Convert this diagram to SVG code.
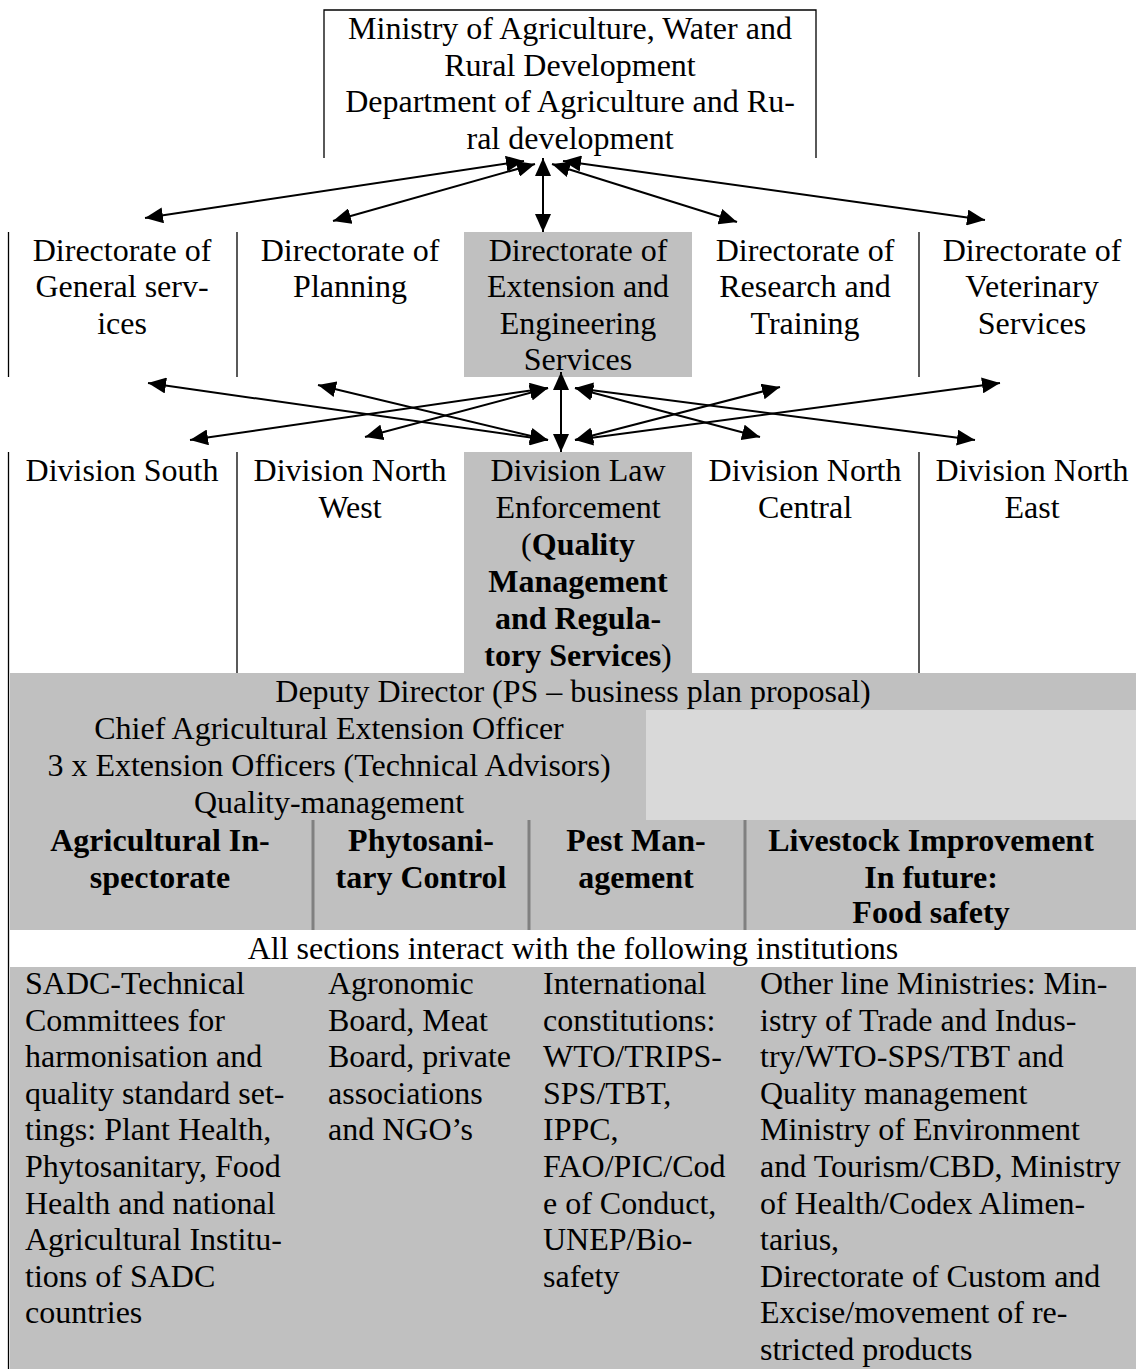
<svg xmlns="http://www.w3.org/2000/svg" width="1136" height="1369" viewBox="0 0 1136 1369">
<defs>
<marker id="ah" viewBox="0 0 18 16" refX="18" refY="8" markerWidth="18" markerHeight="16" markerUnits="userSpaceOnUse" orient="auto-start-reverse"><path d="M0,0 L18,8 L0,16 z" fill="#000"/></marker>
</defs>
<style>
text{font-family:"Liberation Serif","Times New Roman",serif;font-size:32px;fill:#000}
.c{text-anchor:middle}
.b{font-weight:bold}
.ln{stroke:#000;stroke-width:1.3;fill:none}
.g{fill:#c0c0c0}
.lg{fill:#d9d9d9}
.sep{stroke:#808080;stroke-width:3}
.arr{stroke:#000;stroke-width:2;fill:none;marker-start:url(#ah);marker-end:url(#ah)}
</style>
<rect width="1136" height="1369" fill="#fff"/>

<g id="ministry">
<path class="ln" d="M324,158 V10 H816 V158"/>
<text class="c" x="570" y="39">Ministry of Agriculture, Water and</text>
<text class="c" x="570" y="76">Rural Development</text>
<text class="c" x="570" y="112">Department of Agriculture and Ru-</text>
<text class="c" x="570" y="149">ral development</text>
</g>

<g id="dir-general">
<line class="ln" x1="8.5" y1="232" x2="8.5" y2="377"/>
<text class="c" x="122" y="261">Directorate of</text>
<text class="c" x="122" y="297">General serv-</text>
<text class="c" x="122" y="334">ices</text>
</g>
<g id="dir-planning">
<line class="ln" x1="237" y1="232" x2="237" y2="377"/>
<text class="c" x="350" y="261">Directorate of</text>
<text class="c" x="350" y="297">Planning</text>
</g>
<g id="dir-extension">
<rect class="g" x="464" y="232" width="228" height="145"/>
<text class="c" x="578" y="261">Directorate of</text>
<text class="c" x="578" y="297">Extension and</text>
<text class="c" x="578" y="334">Engineering</text>
<text class="c" x="578" y="370">Services</text>
</g>
<g id="dir-research">
<text class="c" x="805" y="261">Directorate of</text>
<text class="c" x="805" y="297">Research and</text>
<text class="c" x="805" y="334">Training</text>
</g>
<g id="dir-veterinary">
<line class="ln" x1="919" y1="232" x2="919" y2="377"/>
<text class="c" x="1032" y="261">Directorate of</text>
<text class="c" x="1032" y="297">Veterinary</text>
<text class="c" x="1032" y="334">Services</text>
</g>

<g id="div-south">
<text class="c" x="122" y="481">Division South</text>
</g>
<g id="div-northwest">
<line class="ln" x1="237" y1="452" x2="237" y2="673"/>
<text class="c" x="350" y="481">Division North</text>
<text class="c" x="350" y="518">West</text>
</g>
<g id="div-law">
<rect class="g" x="464" y="452" width="228" height="221"/>
<text class="c" x="578" y="481">Division Law</text>
<text class="c" x="578" y="518">Enforcement</text>
<text class="c" x="578" y="555">(<tspan class="b">Quality</tspan></text>
<text class="c b" x="578" y="592">Management</text>
<text class="c b" x="578" y="629">and Regula-</text>
<text class="c" x="578" y="666"><tspan class="b">tory Services</tspan>)</text>
</g>
<g id="div-northcentral">
<text class="c" x="805" y="481">Division North</text>
<text class="c" x="805" y="518">Central</text>
</g>
<g id="div-northeast">
<line class="ln" x1="919" y1="452" x2="919" y2="673"/>
<text class="c" x="1032" y="481">Division North</text>
<text class="c" x="1032" y="518">East</text>
</g>

<g id="qm-unit">
<rect class="g" x="10" y="673" width="1126" height="257"/>
<rect class="lg" x="646" y="710" width="490" height="110"/>
<text class="c" x="573" y="702">Deputy Director (PS – business plan proposal)</text>
<text class="c" x="329" y="739">Chief Agricultural Extension Officer</text>
<text class="c" x="329" y="776">3 x Extension Officers (Technical Advisors)</text>
<text class="c" x="329" y="813">Quality-management</text>
<line class="sep" x1="313" y1="820" x2="313" y2="930"/>
<line class="sep" x1="529" y1="820" x2="529" y2="930"/>
<line class="sep" x1="745" y1="820" x2="745" y2="930"/>
</g>
<g id="sec-inspectorate">
<text class="c b" x="160" y="851">Agricultural In-</text>
<text class="c b" x="160" y="888">spectorate</text>
</g>
<g id="sec-phyto">
<text class="c b" x="421" y="851">Phytosani-</text>
<text class="c b" x="421" y="888">tary Control</text>
</g>
<g id="sec-pest">
<text class="c b" x="636" y="851">Pest Man-</text>
<text class="c b" x="636" y="888">agement</text>
</g>
<g id="sec-livestock">
<text class="c b" x="931" y="851">Livestock Improvement</text>
<text class="c b" x="931" y="888">In future:</text>
<text class="c b" x="931" y="923">Food safety</text>
</g>

<g id="interact-note">
<text class="c" x="573" y="959">All sections interact with the following institutions</text>
</g>

<g id="institutions">
<rect class="g" x="10" y="967" width="1126" height="402"/>
<line class="ln" x1="8.5" y1="452" x2="8.5" y2="1369"/>
</g>
<g id="inst-sadc">
<text x="25" y="994">SADC-Technical</text>
<text x="25" y="1031">Committees for</text>
<text x="25" y="1067">harmonisation and</text>
<text x="25" y="1104">quality standard set-</text>
<text x="25" y="1140">tings: Plant Health,</text>
<text x="25" y="1177">Phytosanitary, Food</text>
<text x="25" y="1214">Health and national</text>
<text x="25" y="1250">Agricultural Institu-</text>
<text x="25" y="1287">tions of SADC</text>
<text x="25" y="1323">countries</text>
</g>
<g id="inst-boards">
<text x="328" y="994">Agronomic</text>
<text x="328" y="1031">Board, Meat</text>
<text x="328" y="1067">Board, private</text>
<text x="328" y="1104">associations</text>
<text x="328" y="1140">and NGO’s</text>
</g>
<g id="inst-international">
<text x="543" y="994">International</text>
<text x="543" y="1031">constitutions:</text>
<text x="543" y="1067">WTO/TRIPS-</text>
<text x="543" y="1104">SPS/TBT,</text>
<text x="543" y="1140">IPPC,</text>
<text x="543" y="1177">FAO/PIC/Cod</text>
<text x="543" y="1214">e of Conduct,</text>
<text x="543" y="1250">UNEP/Bio-</text>
<text x="543" y="1287">safety</text>
</g>
<g id="inst-ministries">
<text x="760" y="994">Other line Ministries: Min-</text>
<text x="760" y="1031">istry of Trade and Indus-</text>
<text x="760" y="1067">try/WTO-SPS/TBT and</text>
<text x="760" y="1104">Quality management</text>
<text x="760" y="1140">Ministry of Environment</text>
<text x="760" y="1177">and Tourism/CBD, Ministry</text>
<text x="760" y="1214">of Health/Codex Alimen-</text>
<text x="760" y="1250">tarius,</text>
<text x="760" y="1287">Directorate of Custom and</text>
<text x="760" y="1323">Excise/movement of re-</text>
<text x="760" y="1360">stricted products</text>
</g>

<g id="connectors">
<line class="arr" x1="145" y1="218" x2="524" y2="161"/>
<line class="arr" x1="333" y1="221" x2="535" y2="164"/>
<line class="arr" x1="543" y1="232" x2="543" y2="158"/>
<line class="arr" x1="737" y1="222" x2="552" y2="164"/>
<line class="arr" x1="985" y1="220" x2="563" y2="161"/>

<line class="arr" x1="148" y1="383" x2="548" y2="440"/>
<line class="arr" x1="318" y1="385" x2="548" y2="440"/>
<line class="arr" x1="190" y1="440" x2="548" y2="388"/>
<line class="arr" x1="365" y1="437" x2="548" y2="388"/>
<line class="arr" x1="780" y1="387" x2="575" y2="440"/>
<line class="arr" x1="1000" y1="383" x2="575" y2="440"/>
<line class="arr" x1="760" y1="437" x2="575" y2="388"/>
<line class="arr" x1="975" y1="440" x2="575" y2="388"/>
<line class="arr" x1="561" y1="372" x2="561" y2="452"/>
</g>
</svg>
